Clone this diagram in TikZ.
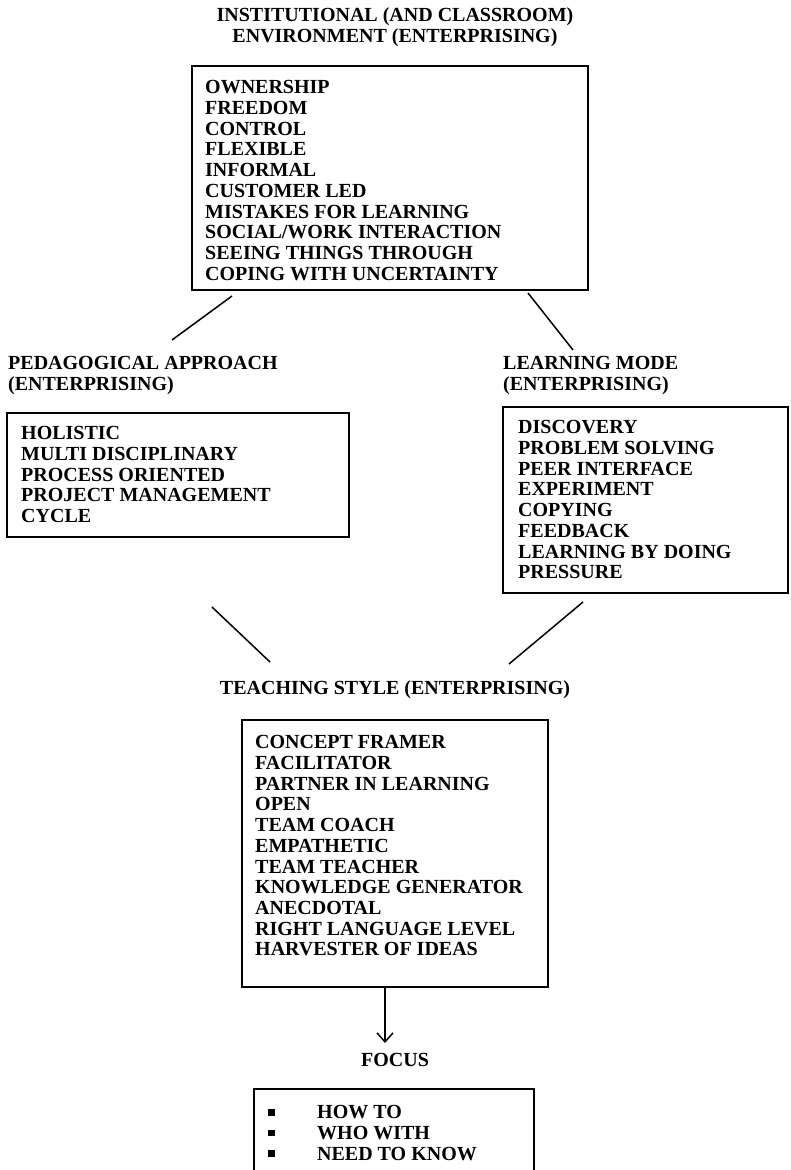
\documentclass[tikz,border=0pt]{standalone}
\usepackage{fontspec}
\setmainfont{Liberation Serif}
\usetikzlibrary{arrows.meta,calc}
\begin{document}
\begin{tikzpicture}[x=1pt,y=-1pt,
  txt/.style={font=\bfseries\fontsize{20}{20.7}\selectfont, inner sep=0pt, align=left},
  ctxt/.style={font=\bfseries\fontsize{20}{21}\selectfont, inner sep=0pt, align=center},
  frame/.style={draw, line width=1.6pt},
  link/.style={line width=1.5pt},
  bul/.style={}]
\useasboundingbox (0,0) rectangle (791,1170);
\fill[white] (0,0) rectangle (791,1170);

% Institutional environment
\node[ctxt] (envT) at (395,27.5) {INSTITUTIONAL (AND CLASSROOM)\\ENVIRONMENT (ENTERPRISING)};
\draw[frame] (192,66) rectangle (588,290);
\node[txt, anchor=north west] (envL) at (205,80.4) {OWNERSHIP\\FREEDOM\\CONTROL\\FLEXIBLE\\INFORMAL\\CUSTOMER LED\\MISTAKES FOR LEARNING\\SOCIAL/WORK INTERACTION\\SEEING THINGS THROUGH\\COPING WITH UNCERTAINTY};

% Pedagogical approach
\node[txt, anchor=north west] (pedT) at (8,356.4) {PEDAGOGICAL APPROACH\\(ENTERPRISING)};
\draw[frame] (7,413) rectangle (349,537);
\node[txt, anchor=north west] (pedL) at (21,426.4) {HOLISTIC\\MULTI DISCIPLINARY\\PROCESS ORIENTED\\PROJECT MANAGEMENT\\CYCLE};

% Learning mode
\node[txt, anchor=north west] (lrnT) at (503,356.4) {LEARNING MODE\\(ENTERPRISING)};
\draw[frame] (503,407) rectangle (788,593);
\node[txt, anchor=north west] (lrnL) at (518,420.4) {DISCOVERY\\PROBLEM SOLVING\\PEER INTERFACE\\EXPERIMENT\\COPYING\\FEEDBACK\\LEARNING BY DOING\\PRESSURE};

% Teaching style
\node[ctxt] (tchT) at (395,690) {TEACHING STYLE (ENTERPRISING)};
\draw[frame] (242,720) rectangle (548,987);
\node[txt, anchor=north west] (tchL) at (255,735.4) {CONCEPT FRAMER\\FACILITATOR\\PARTNER IN LEARNING\\OPEN\\TEAM COACH\\EMPATHETIC\\TEAM TEACHER\\KNOWLEDGE GENERATOR\\ANECDOTAL\\RIGHT LANGUAGE LEVEL\\HARVESTER OF IDEAS};

% Focus
\node[ctxt] (focT) at (395,1060) {FOCUS};
\draw[frame] (254,1089) rectangle (534,1190);
\newcommand{\focusitem}[1]{\makebox[49pt][l]{\raisebox{3.3pt}{\rule{6.5pt}{6.5pt}}}#1}
\node[txt, anchor=north west] (focL) at (268,1105.4) {\focusitem{HOW TO}\\\focusitem{WHO WITH}\\\focusitem{NEED TO KNOW}};

% Connectors
\coordinate (a1) at (232,296); \coordinate (a2) at (172,340);
\coordinate (b1) at (528,293); \coordinate (b2) at (573,350);
\coordinate (c1) at (212,607); \coordinate (c2) at (270,662);
\coordinate (d1) at (583,602); \coordinate (d2) at (509,664);
\coordinate (e1) at (385,988); \coordinate (e2) at (385,1043);
\draw[link] (a1) -- (a2);
\draw[link] (b1) -- (b2);
\draw[link] (c1) -- (c2);
\draw[link] (d1) -- (d2);
\draw[link, -{Straight Barb[length=9pt,width=16pt,line width=1.5pt]}] (e1) -- (e2);
\end{tikzpicture}
\end{document}
